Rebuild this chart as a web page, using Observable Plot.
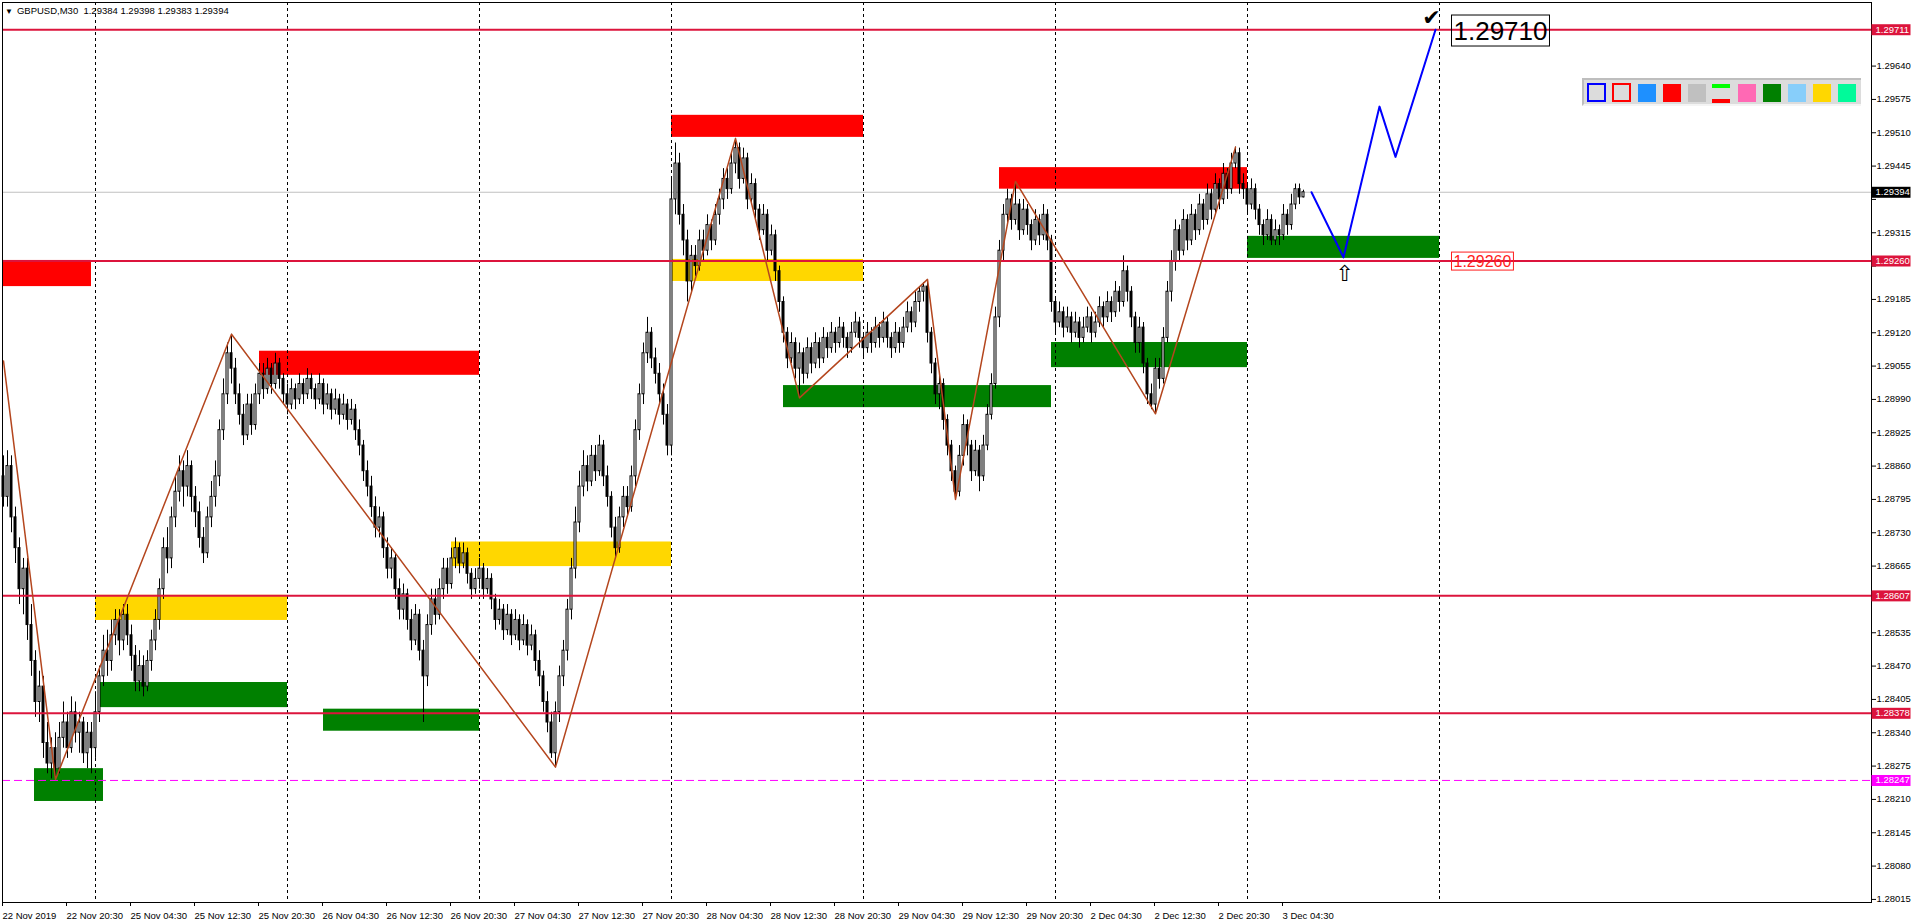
<!DOCTYPE html>
<html><head><meta charset="utf-8">
<script src="https://cdn.jsdelivr.net/npm/d3@7"></script>
<script src="https://cdn.jsdelivr.net/npm/@observablehq/plot@0.6"></script>
<style>
html,body{margin:0;padding:0;background:#fff;overflow:hidden;}
#wrap{position:relative;width:1916px;height:923px;overflow:hidden;font-family:"Liberation Sans",Arial,sans-serif;}
#hdr{position:absolute;left:5px;top:6px;font-size:9.5px;line-height:10px;color:#000;white-space:pre;z-index:3;}
#hdr b{font-weight:normal;font-size:8px;margin-right:4px;}
#pal{position:absolute;left:1582px;top:78px;width:279px;height:28px;box-sizing:border-box;background:#DCDCDC;border-top:2px solid #BEBEBE;border-left:2px solid #BEBEBE;border-bottom:2px solid #F4F4F4;z-index:3;}
#pal i{position:absolute;display:block;box-sizing:border-box;width:18px;height:18px;top:4px;}
</style></head><body><div id="wrap"></div>
<script>
// ---- candles (GBPUSD M30), bar 0 = 22 Nov 2019 12:30 ----
const opens = [
1.2884,1.2880,1.2886,1.2876,1.2870,1.2862,1.2866,1.2855,1.2848,1.2840,
1.2843,1.2832,1.2828,1.2831,1.2827,1.2833,1.2836,1.2831,1.2838,1.2834,
1.2836,1.2830,1.2834,1.2831,1.2838,1.2845,1.2850,1.2848,1.2853,1.2856,
1.2852,1.2857,1.2853,1.2849,1.2844,1.2847,1.2843,1.2848,1.2852,1.2856,
1.2862,1.2870,1.2868,1.2876,1.2881,1.2885,1.2882,1.2886,1.2880,1.2877,
1.2872,1.2869,1.2876,1.2880,1.2884,1.2893,1.2900,1.2908,1.2905,1.2900,
1.2896,1.2892,1.2898,1.2894,1.2900,1.2904,1.2901,1.2905,1.2902,1.2906,
1.2903,1.2900,1.2898,1.2901,1.2899,1.2902,1.2900,1.2903,1.2901,1.2899,
1.2902,1.2898,1.2900,1.2897,1.2899,1.2896,1.2898,1.2895,1.2897,1.2893,
1.2890,1.2885,1.2882,1.2878,1.2874,1.2876,1.2870,1.2866,1.2868,1.2862,
1.2858,1.2861,1.2856,1.2852,1.2857,1.2850,1.2845,1.2855,1.2860,1.2857,
1.2862,1.2866,1.2863,1.2868,1.2870,1.2867,1.2869,1.2865,1.2862,1.2864,
1.2866,1.2862,1.2864,1.2860,1.2856,1.2858,1.2854,1.2857,1.2853,1.2856,
1.2852,1.2855,1.2851,1.2853,1.2848,1.2845,1.2840,1.2836,1.2830,1.2838,
1.2845,1.2850,1.2858,1.2866,1.2875,1.2882,1.2886,1.2883,1.2888,1.2885,
1.2890,1.2884,1.2880,1.2874,1.2870,1.2876,1.2880,1.2878,1.2884,1.2893,
1.2900,1.2908,1.2912,1.2907,1.2904,1.2900,1.2896,1.2890,1.2938,1.2945,
1.2935,1.2930,1.2922,1.2927,1.2925,1.2930,1.2928,1.2933,1.2930,1.2935,
1.2938,1.2942,1.2940,1.2945,1.2948,1.2942,1.2946,1.2938,1.2941,1.2936,
1.2932,1.2935,1.2928,1.2931,1.2924,1.2918,1.2912,1.2907,1.2910,1.2905,
1.2908,1.2904,1.2909,1.2906,1.2910,1.2907,1.2911,1.2909,1.2912,1.2910,
1.2913,1.2911,1.2909,1.2912,1.2914,1.2911,1.2909,1.2912,1.2910,1.2913,
1.2911,1.2914,1.2911,1.2909,1.2912,1.2910,1.2913,1.2916,1.2914,1.2918,
1.2920,1.2921,1.2912,1.2906,1.2900,1.2902,1.2895,1.2890,1.2885,1.2881,
1.2888,1.2894,1.2890,1.2885,1.2889,1.2884,1.2890,1.2896,1.2902,1.2915,
1.2928,1.2935,1.2938,1.2934,1.2937,1.2932,1.2936,1.2933,1.2930,1.2934,
1.2931,1.2935,1.2930,1.2918,1.2914,1.2916,1.2913,1.2915,1.2912,1.2914,
1.2911,1.2913,1.2915,1.2912,1.2914,1.2917,1.2915,1.2918,1.2916,1.2920,
1.2918,1.2924,1.2920,1.2915,1.2910,1.2913,1.2906,1.2900,1.2898,1.2905,
1.2903,1.2911,1.2920,1.2926,1.2932,1.2928,1.2934,1.2930,1.2935,1.2932,
1.2937,1.2934,1.2939,1.2936,1.2941,1.2938,1.2943,1.2940,1.2945,1.2947,
1.2941,1.2940,1.2937,1.2940,1.2936,1.2933,1.2931,1.2934,1.2930,1.2932,
1.2931,1.2935,1.2933,1.2937,1.2940,1.29384];
const highs = [
1.2888,1.2889,1.2888,1.2878,1.2872,1.2868,1.2868,1.2859,1.2850,1.2846,
1.2845,1.2836,1.2833,1.2834,1.2836,1.2840,1.2838,1.2841,1.2840,1.2838,
1.2837,1.2836,1.2836,1.2842,1.2847,1.2853,1.2854,1.2856,1.2858,1.2858,
1.2859,1.2859,1.2855,1.2851,1.2850,1.2849,1.2850,1.2854,1.2858,1.2864,
1.2872,1.2874,1.2878,1.2884,1.2888,1.2887,1.2889,1.2887,1.2882,1.2879,
1.2874,1.2878,1.2883,1.2887,1.2895,1.2903,1.2910,1.29117,1.2907,1.2902,
1.2898,1.2900,1.2900,1.2902,1.2906,1.2906,1.2907,1.2906,1.2908,1.2907,
1.2904,1.2902,1.2903,1.2902,1.2904,1.2903,1.2905,1.2904,1.2902,1.2904,
1.2903,1.2902,1.2901,1.2901,1.2900,1.2900,1.2899,1.2899,1.2898,1.2895,
1.2891,1.2887,1.2884,1.2880,1.2878,1.2877,1.2872,1.2870,1.2869,1.2864,
1.2863,1.2862,1.2858,1.2859,1.2858,1.2852,1.2857,1.2862,1.2862,1.2864,
1.2868,1.2868,1.2870,1.2872,1.2871,1.2871,1.2870,1.2866,1.2866,1.2868,
1.2867,1.2866,1.2865,1.2861,1.2860,1.2859,1.2859,1.2858,1.2858,1.2857,
1.2857,1.2856,1.2855,1.2854,1.2850,1.2846,1.2842,1.2838,1.2840,1.2847,
1.2852,1.2860,1.2868,1.2878,1.2885,1.2889,1.2888,1.2890,1.2890,1.2892,
1.2891,1.2886,1.2881,1.2876,1.2878,1.2882,1.2882,1.2886,1.2895,1.2902,
1.2910,1.2915,1.2913,1.2909,1.2906,1.2902,1.2898,1.2942,1.2949,1.2947,
1.2937,1.2932,1.2929,1.2929,1.2932,1.2932,1.2935,1.2934,1.2937,1.2940,
1.2944,1.2944,1.2947,1.29499,1.2949,1.2948,1.2947,1.2943,1.2942,1.2937,
1.2937,1.2936,1.2933,1.2932,1.2925,1.2919,1.2913,1.2912,1.2911,1.2910,
1.2909,1.2911,1.2910,1.2912,1.2911,1.2913,1.2912,1.2914,1.2913,1.2915,
1.2914,1.2912,1.2914,1.2916,1.2915,1.2912,1.2914,1.2913,1.2915,1.2914,
1.2916,1.2915,1.2912,1.2914,1.2913,1.2915,1.2918,1.2917,1.2920,1.2921,
1.29218,1.29224,1.2913,1.2907,1.2904,1.2903,1.2896,1.2891,1.2886,1.2890,
1.2896,1.2895,1.2891,1.2891,1.2890,1.2892,1.2898,1.2904,1.2917,1.2930,
1.2937,1.2940,1.2939,1.29415,1.2938,1.2938,1.2937,1.2934,1.2936,1.2935,
1.2937,1.2936,1.2931,1.2919,1.2918,1.2917,1.2917,1.2916,1.2916,1.2915,
1.2915,1.2917,1.2916,1.2916,1.2919,1.2918,1.2920,1.2919,1.2922,1.2921,
1.2927,1.2925,1.2921,1.2916,1.2915,1.2914,1.2907,1.2902,1.2907,1.2907,
1.2913,1.2922,1.2928,1.2934,1.2933,1.2936,1.2935,1.2937,1.2936,1.2939,
1.2938,1.2941,1.2940,1.2943,1.2942,1.2945,1.2944,1.2947,1.29482,1.2948,
1.2943,1.2941,1.2942,1.2941,1.2937,1.2934,1.2936,1.2935,1.2934,1.2933,
1.2937,1.2936,1.2939,1.2941,1.2941,1.29398];
const lows = [
1.2878,1.2878,1.2873,1.2867,1.2859,1.2857,1.2852,1.2845,1.2837,1.2836,
1.2829,1.2826,1.2825,1.28249,1.2826,1.2831,1.2829,1.2830,1.2832,1.2830,
1.2828,1.2827,1.2826,1.2829,1.2836,1.2843,1.2845,1.2846,1.2851,1.2849,
1.2850,1.2851,1.2846,1.2842,1.2842,1.2841,1.2842,1.2846,1.2850,1.2854,
1.2860,1.2865,1.2866,1.2874,1.2879,1.2878,1.2880,1.2877,1.2874,1.2870,
1.2867,1.2868,1.2874,1.2878,1.2882,1.2891,1.2898,1.2902,1.2898,1.2894,
1.2890,1.2891,1.2892,1.2893,1.2898,1.2899,1.2900,1.2900,1.2901,1.2901,
1.2898,1.2896,1.2897,1.2897,1.2898,1.2898,1.2899,1.2899,1.2897,1.2898,
1.2896,1.2897,1.2895,1.2896,1.2894,1.2895,1.2893,1.2894,1.2891,1.2888,
1.2883,1.2880,1.2876,1.2872,1.2872,1.2868,1.2864,1.2864,1.2860,1.2856,
1.2856,1.2854,1.2850,1.2851,1.2848,1.2836,1.2843,1.2853,1.2855,1.2856,
1.2860,1.2861,1.2862,1.2866,1.2865,1.2866,1.2863,1.2860,1.2861,1.2862,
1.2860,1.2861,1.2858,1.2854,1.2855,1.2852,1.2853,1.2851,1.2852,1.2850,
1.2851,1.2849,1.2850,1.2846,1.2843,1.2838,1.2834,1.2829,1.28273,1.2836,
1.2843,1.2848,1.2856,1.2864,1.2873,1.2880,1.2881,1.2882,1.2883,1.2884,
1.2882,1.2878,1.2872,1.2868,1.2869,1.2874,1.2876,1.2877,1.2882,1.2891,
1.2898,1.2906,1.2905,1.2902,1.2898,1.2894,1.2888,1.2888,1.2935,1.2933,
1.2927,1.2918,1.2920,1.2923,1.2924,1.2926,1.2927,1.2928,1.2929,1.2933,
1.2936,1.2938,1.2939,1.2943,1.2940,1.2941,1.2936,1.2937,1.2934,1.2930,
1.2931,1.2926,1.2927,1.2922,1.2916,1.2910,1.2905,1.2906,1.2903,1.28993,
1.2902,1.2903,1.2904,1.2905,1.2905,1.2906,1.2907,1.2908,1.2908,1.2909,
1.2909,1.2907,1.2908,1.2911,1.2909,1.2907,1.2908,1.2908,1.2909,1.2909,
1.2910,1.2909,1.2907,1.2908,1.2908,1.2909,1.2912,1.2912,1.2913,1.2916,
1.2918,1.2910,1.2904,1.2898,1.2897,1.2893,1.2888,1.2883,1.28795,1.2880,
1.2886,1.2888,1.2883,1.2884,1.2881,1.2883,1.2889,1.2895,1.2901,1.2913,
1.2926,1.2933,1.2932,1.2933,1.2930,1.2931,1.2931,1.2928,1.2929,1.2929,
1.2930,1.2928,1.2916,1.2912,1.2913,1.2911,1.2912,1.2910,1.2911,1.2909,
1.2910,1.2912,1.2910,1.2911,1.2913,1.2913,1.2914,1.2914,1.2915,1.2916,
1.2917,1.2918,1.2913,1.2908,1.2908,1.2904,1.2898,1.2897,1.28962,1.2901,
1.2902,1.2910,1.2918,1.2924,1.2926,1.2927,1.2928,1.2929,1.2930,1.2931,
1.2932,1.2933,1.2934,1.2935,1.2936,1.2937,1.2938,1.2939,1.2944,1.2939,
1.2938,1.2935,1.2936,1.2934,1.2931,1.2929,1.2930,1.2929,1.2929,1.2929,
1.2930,1.2931,1.2932,1.2936,1.2937,1.29383];
const closes = [
1.2880,1.2886,1.2876,1.2870,1.2862,1.2866,1.2855,1.2848,1.2840,1.2843,
1.2832,1.2828,1.2831,1.2827,1.2833,1.2836,1.2831,1.2838,1.2834,1.2836,
1.2830,1.2834,1.2831,1.2838,1.2845,1.2850,1.2848,1.2853,1.2856,1.2852,
1.2857,1.2853,1.2849,1.2844,1.2847,1.2843,1.2848,1.2852,1.2856,1.2862,
1.2870,1.2868,1.2876,1.2881,1.2885,1.2882,1.2886,1.2880,1.2877,1.2872,
1.2869,1.2876,1.2880,1.2884,1.2893,1.2900,1.2908,1.2905,1.2900,1.2896,
1.2892,1.2898,1.2894,1.2900,1.2904,1.2901,1.2905,1.2902,1.2906,1.2903,
1.2900,1.2898,1.2901,1.2899,1.2902,1.2900,1.2903,1.2901,1.2899,1.2902,
1.2898,1.2900,1.2897,1.2899,1.2896,1.2898,1.2895,1.2897,1.2893,1.2890,
1.2885,1.2882,1.2878,1.2874,1.2876,1.2870,1.2866,1.2868,1.2862,1.2858,
1.2861,1.2856,1.2852,1.2857,1.2850,1.2845,1.2855,1.2860,1.2857,1.2862,
1.2866,1.2863,1.2868,1.2870,1.2867,1.2869,1.2865,1.2862,1.2864,1.2866,
1.2862,1.2864,1.2860,1.2856,1.2858,1.2854,1.2857,1.2853,1.2856,1.2852,
1.2855,1.2851,1.2853,1.2848,1.2845,1.2840,1.2836,1.2830,1.2838,1.2845,
1.2850,1.2858,1.2866,1.2875,1.2882,1.2886,1.2883,1.2888,1.2885,1.2890,
1.2884,1.2880,1.2874,1.2870,1.2876,1.2880,1.2878,1.2884,1.2893,1.2900,
1.2908,1.2912,1.2907,1.2904,1.2900,1.2896,1.2890,1.2938,1.2945,1.2935,
1.2930,1.2922,1.2927,1.2925,1.2930,1.2928,1.2933,1.2930,1.2935,1.2938,
1.2942,1.2940,1.2945,1.2948,1.2942,1.2946,1.2938,1.2941,1.2936,1.2932,
1.2935,1.2928,1.2931,1.2924,1.2918,1.2912,1.2907,1.2910,1.2905,1.2908,
1.2904,1.2909,1.2906,1.2910,1.2907,1.2911,1.2909,1.2912,1.2910,1.2913,
1.2911,1.2909,1.2912,1.2914,1.2911,1.2909,1.2912,1.2910,1.2913,1.2911,
1.2914,1.2911,1.2909,1.2912,1.2910,1.2913,1.2916,1.2914,1.2918,1.2920,
1.2921,1.2912,1.2906,1.2900,1.2902,1.2895,1.2890,1.2885,1.2881,1.2888,
1.2894,1.2890,1.2885,1.2889,1.2884,1.2890,1.2896,1.2902,1.2915,1.2928,
1.2935,1.2938,1.2934,1.2937,1.2932,1.2936,1.2933,1.2930,1.2934,1.2931,
1.2935,1.2930,1.2918,1.2914,1.2916,1.2913,1.2915,1.2912,1.2914,1.2911,
1.2913,1.2915,1.2912,1.2914,1.2917,1.2915,1.2918,1.2916,1.2920,1.2918,
1.2924,1.2920,1.2915,1.2910,1.2913,1.2906,1.2900,1.2898,1.2905,1.2903,
1.2911,1.2920,1.2926,1.2932,1.2928,1.2934,1.2930,1.2935,1.2932,1.2937,
1.2934,1.2939,1.2936,1.2941,1.2938,1.2943,1.2940,1.2945,1.2947,1.2941,
1.2940,1.2937,1.2940,1.2936,1.2933,1.2931,1.2934,1.2930,1.2932,1.2931,
1.2935,1.2933,1.2937,1.2940,1.29384,1.29394];

// ---- time axis ----
const dayStartBars = [23, 71, 119, 167, 215, 263, 311, 359];
const timeLabelBars = [0,16,32,48,64,80,96,112,128,144,160,176,192,208,224,240,256,272,288,304,320];
const timeLabels = ["22 Nov 2019","22 Nov 20:30","25 Nov 04:30","25 Nov 12:30","25 Nov 20:30","26 Nov 04:30","26 Nov 12:30","26 Nov 20:30","27 Nov 04:30","27 Nov 12:30","27 Nov 20:30","28 Nov 04:30","28 Nov 12:30","28 Nov 20:30","29 Nov 04:30","29 Nov 12:30","29 Nov 20:30","2 Dec 04:30","2 Dec 12:30","2 Dec 20:30","3 Dec 04:30"];

// ---- price axis ----
const priceTicks = [1.28015,1.28080,1.28145,1.28210,1.28275,1.28340,1.28405,1.28470,1.28535,1.28600,1.28665,1.28730,1.28795,1.28860,1.28925,1.28990,1.29055,1.29120,1.29185,1.29250,1.29315,1.29380,1.29445,1.29510,1.29575,1.29640,1.29705];

// ---- horizontal levels ----
const redLevels = [1.29711, 1.29260, 1.28607, 1.28378];
const magentaLevels = [1.28247];
const bidPrices = [1.29394];

// ---- supply / demand zones ----
const zoneKind = ["supply","flip","demand","demand","supply","demand","flip","supply","flip","demand","supply","demand","demand"];
const zoneFrom = [0, 23, 24, 7.75, 64, 80, 112, 167, 167, 195, 249, 262, 311];
const zoneTo   = [22, 71, 71, 25, 119, 119, 167, 215, 215, 262, 311, 311, 359];
const zoneHigh = [1.29261,1.28608,1.28438,1.28270,1.29084,1.28386,1.28712,1.29544,1.29263,1.29017,1.29442,1.29101,1.29308];
const zoneLow  = [1.29210,1.28559,1.28389,1.28206,1.29037,1.28343,1.28664,1.29501,1.29220,1.28974,1.29400,1.29052,1.29265];

// ---- zigzag ----
const zigzagBars = [0, 13, 57, 138, 183, 199, 231, 238, 253, 288, 308];
const zigzagPrices = [1.29065, 1.28249, 1.29117, 1.28273, 1.29499, 1.28993, 1.29224, 1.28795, 1.29415, 1.28962, 1.29482];

// ---- projected path ----
const pathBars = [327, 335, 344, 348, 358];
const pathPrices = [1.29394, 1.29267, 1.29561, 1.29463, 1.29711];

// ---- price labels ----
const labelBar = 362;
const targetPrice = 1.29710;
const stopPrice = 1.29260;

const headerText = "GBPUSD,M30  1.29384 1.29398 1.29383 1.29394";

try {
  const candles = closes.map((c, i) => ({i, o: opens[i], h: highs[i], l: lows[i], c}));
  const zones = zoneKind.map((k, j) => ({k, x1: zoneFrom[j], x2: zoneTo[j], y1: zoneLow[j], y2: zoneHigh[j]}));
  const zoneFill = {supply: "#FF0000", demand: "#008000", flip: "#FFD700"};
  const zig = zigzagBars.map((b, j) => ({b, p: zigzagPrices[j]}));
  const path = pathBars.map((b, j) => ({b, p: pathPrices[j]}));
  const labelMap = new Map(timeLabelBars.map((b, j) => [b, timeLabels[j]]));
  const tagPrices = [...redLevels, ...magentaLevels, ...bidPrices];
  // tick labels hidden behind the coloured price tags
  const covered = t => tagPrices.some(p => Math.abs(p - t) < 0.00022);
  const font = "'Liberation Sans', Arial, sans-serif";

  const chart = Plot.plot({
    width: 1916, height: 923,
    marginLeft: 2, marginRight: 45, marginTop: 2, marginBottom: 21,
    style: {fontFamily: font, fontSize: "9.5px", background: "#fff", color: "#000", overflow: "visible"},
    x: {type: "linear", domain: [-0.25, 467]},
    y: {type: "linear", domain: [1.28009, 1.29764]},
    color: {type: "identity"},
    marks: [
      Plot.rect(zones, {x1: "x1", x2: "x2", y1: "y1", y2: "y2", fill: d => zoneFill[d.k]}),
      Plot.ruleX(dayStartBars, {stroke: "#000", strokeWidth: 1, strokeDasharray: "3,3"}),
      Plot.ruleY(bidPrices, {stroke: "#C0C0C0", strokeWidth: 1}),
      Plot.ruleX(candles, {x: "i", y1: "l", y2: "h", stroke: "#000", strokeWidth: 1}),
      Plot.rect(candles, {x1: d => d.i - 0.25, x2: d => d.i + 0.25, y1: "o", y2: "c",
        fill: d => d.c >= d.o ? "#FFFFFF" : "#000000", stroke: "#000", strokeWidth: 1}),
      Plot.ruleY(redLevels, {stroke: "#DC143C", strokeWidth: 2}),
      Plot.ruleY(magentaLevels, {stroke: "#FF00FF", strokeWidth: 1, strokeDasharray: "8,4"}),
      Plot.line(zig, {x: "b", y: "p", stroke: "#B4461E", strokeWidth: 1.5}),
      Plot.line(path, {x: "b", y: "p", stroke: "#0000FF", strokeWidth: 2}),
      Plot.axisY(priceTicks, {anchor: "right", tickSize: 4, tickPadding: 1, tickFormat: d => covered(d) ? "" : d.toFixed(5), label: null}),
      Plot.axisX(timeLabelBars, {anchor: "bottom", tickSize: 4, tickPadding: 6, tickFormat: d => labelMap.get(d), textAnchor: "start", dx: -1, label: null}),
      Plot.frame({stroke: "#000"}),
      // right axis price tags
      Plot.text(redLevels, {y: d => d, text: d => d.toFixed(5), frameAnchor: "right", textAnchor: "start", dx: 4, fill: "#FFFFFF", className: "tag-crimson"}),
      Plot.text(magentaLevels, {y: d => d, text: d => d.toFixed(5), frameAnchor: "right", textAnchor: "start", dx: 4, fill: "#FFFFFF", className: "tag-magenta"}),
      Plot.text(bidPrices, {y: d => d, text: d => d.toFixed(5), frameAnchor: "right", textAnchor: "start", dx: 4, fill: "#FFFFFF", className: "tag-black"}),
      // target / stop labels
      Plot.text([targetPrice], {x: () => labelBar, y: d => d, text: d => d.toFixed(5), textAnchor: "start", dx: 2, dy: 1.5, fontSize: 26, fill: "#000", className: "box-black"}),
      Plot.text([stopPrice], {x: () => labelBar, y: d => d, text: d => d.toFixed(5), textAnchor: "start", dx: 2, dy: 1, fontSize: 16, fill: "#FF1E1E", className: "box-red"}),
      // check mark at target, arrow under projected low
      Plot.text([path[path.length - 1]], {x: "b", y: "p", text: () => "✔", dx: -4, dy: -12, fontSize: 22, fill: "#000", fontFamily: "DejaVu Sans"}),
      Plot.text([path[1]], {x: "b", y: "p", text: () => "⇧", dx: 1, dy: 17, fontSize: 22, fill: "#000", fontFamily: "DejaVu Sans"})
    ]
  });

  const wrap = document.getElementById("wrap");
  wrap.appendChild(chart);

  const NS = "http://www.w3.org/2000/svg";
  const svg = chart.tagName.toLowerCase() === "svg" ? chart : chart.querySelector("svg");
  function backRect(t, x, y, w, h, attrs) {
    const r = document.createElementNS(NS, "rect");
    r.setAttribute("x", x); r.setAttribute("y", y);
    r.setAttribute("width", w); r.setAttribute("height", h);
    const tr = t.getAttribute("transform");
    if (tr) r.setAttribute("transform", tr);
    for (const [k, v] of Object.entries(attrs)) r.setAttribute(k, v);
    t.parentNode.insertBefore(r, t);
  }
  const tagColors = {"tag-crimson": "#DC143C", "tag-magenta": "#FF00FF", "tag-black": "#000000"};
  for (const [cls, col] of Object.entries(tagColors)) {
    svg.querySelectorAll(`g.${cls} text`).forEach(t => {
      const b = t.getBBox();
      backRect(t, b.x - 4, b.y + 0.5, 39, Math.max(11, b.height - 0.5), {fill: col});
    });
  }
  const boxColors = {"box-black": "#000000", "box-red": "#FF1E1E"};
  for (const [cls, col] of Object.entries(boxColors)) {
    svg.querySelectorAll(`g.${cls} text`).forEach(t => {
      const b = t.getBBox();
      backRect(t, b.x - 2, b.y - 1, b.width + 4, b.height + 1, {fill: "none", stroke: col, "stroke-width": 1});
    });
  }

  // chart window header
  const hdr = document.createElement("div");
  hdr.id = "hdr";
  hdr.innerHTML = "<b>▼</b>";
  hdr.appendChild(document.createTextNode(headerText));
  wrap.appendChild(hdr);

  // object colour palette (terminal toolbar)
  const pal = document.createElement("div");
  pal.id = "pal";
  const swatches = [
    {border: "#0000FF"}, {border: "#FF0000"}, {fill: "#1E90FF"}, {fill: "#FF0000"}, {fill: "#C0C0C0"},
    {split: ["#00FF00", "#FF0000"]}, {fill: "#FF69B4"}, {fill: "#008000"}, {fill: "#87CEFA"}, {fill: "#FFD700"}, {fill: "#00FA9A"}
  ];
  swatches.forEach((s, k) => {
    const left = 3 + 25 * k;
    if (s.split) {
      const a = document.createElement("i");
      a.style.cssText = `left:${left}px;top:4px;height:4px;background:${s.split[0]}`;
      const b = document.createElement("i");
      b.style.cssText = `left:${left}px;top:19px;height:4px;background:${s.split[1]}`;
      pal.appendChild(a); pal.appendChild(b);
    } else {
      const e = document.createElement("i");
      if (s.border) e.style.cssText = `left:${left}px;top:3px;width:19px;height:19px;border:2px solid ${s.border}`;
      else e.style.cssText = `left:${left + 1}px;background:${s.fill}`;
      pal.appendChild(e);
    }
  });
  wrap.appendChild(pal);
} catch (err) {
  document.body.innerHTML = "<pre>" + err + "\n" + err.stack + "</pre>";
}
</script></body></html>
